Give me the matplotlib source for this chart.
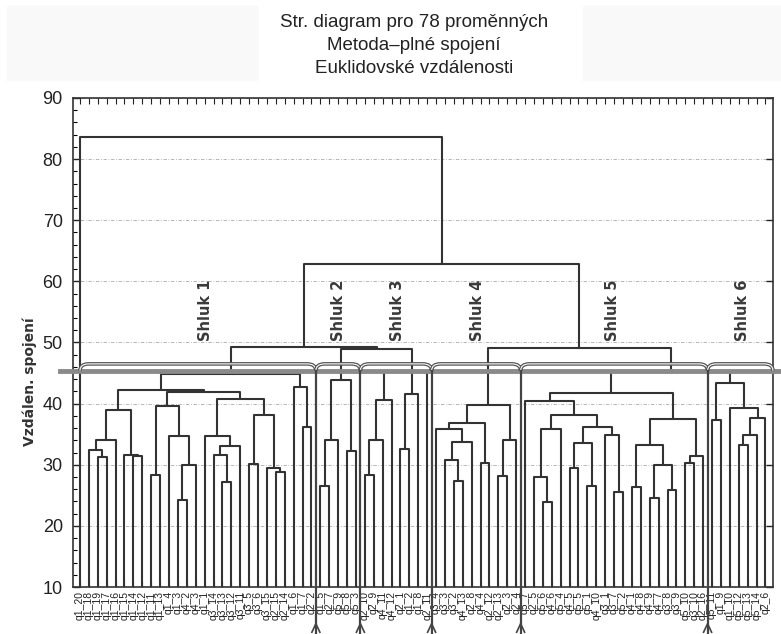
import matplotlib.pyplot as plt
import matplotlib.transforms as mtransforms
from matplotlib.path import Path
from matplotlib.patches import PathPatch, Rectangle
from matplotlib.ticker import MultipleLocator

plt.rcParams['font.family'] = ['Liberation Sans', 'DejaVu Sans']

# leaf order as drawn (left to right)
leaf_labels = [
    "q1_20", "q1_18", "q1_19", "q1_17", "q1_16", "q1_15", "q1_14", "q1_12", "q1_11", "q1_13",
    "q1_4", "q1_3", "q4_2", "q4_3", "q1_1", "q3_14", "q3_13", "q3_12", "q3_11", "q3_5",
    "q3_6", "q3_15", "q2_15", "q2_14", "q1_6", "q1_7", "q2_2", "q1_5", "q2_7", "q5_9",
    "q5_8", "q5_3", "q2_10", "q2_9", "q4_11", "q4_12", "q2_1", "q1_2", "q1_8", "q2_11",
    "q3_4", "q3_3", "q3_2", "q4_13", "q2_8", "q4_4", "q2_12", "q2_13", "q2_3", "q2_4",
    "q5_7", "q2_5", "q5_6", "q4_6", "q5_4", "q4_5", "q5_5", "q5_1", "q4_10", "q3_1",
    "q3_7", "q5_2", "q4_1", "q4_8", "q4_9", "q4_7", "q3_8", "q3_9", "q5_10", "q3_10",
    "q2_16", "q5_11", "q1_9", "q1_10", "q5_12", "q5_13", "q5_14", "q2_6",
]

# merges: (name, left child, right child, linkage distance); ints are leaf numbers
merges = [
    ("a1", 3, 4, 31.2), ("a2", 2, "a1", 32.4), ("a3", "a2", 5, 34.1),
    ("b1", 7, 8, 31.4), ("b2", 6, "b1", 31.6), ("a4", "a3", "b2", 38.9),
    ("c1", 9, 10, 28.3), ("c2", 12, 13, 24.3), ("c3", "c2", 14, 30.0),
    ("c4", 11, "c3", 34.7), ("c5", "c1", "c4", 39.6),
    ("d1", 17, 18, 27.1), ("d2", 16, "d1", 31.6), ("d3", "d2", 19, 33.1),
    ("d4", 15, "d3", 34.7),
    ("e1", 20, 21, 30.2), ("e2", 23, 24, 28.8), ("e3", 22, "e2", 29.5),
    ("e4", "e1", "e3", 38.2), ("d5", "d4", "e4", 40.7),
    ("x2", "c5", "d5", 41.95), ("x1", "a4", "x2", 42.3),
    ("f1", 26, 27, 36.2), ("f2", 25, "f1", 42.8), ("s1", "x1", "f2", 44.8),
    ("g1", 28, 29, 26.6), ("g2", "g1", 30, 34.1), ("g3", 31, 32, 32.3),
    ("s2", "g2", "g3", 43.8),
    ("h1", 33, 34, 28.4), ("h2", "h1", 35, 34.0), ("h3", "h2", 36, 40.6),
    ("h4", 37, 38, 32.6), ("h5", "h4", 39, 41.5),
    ("s3", "h3", "h5", 45.3), ("s3b", "s3", 40, 45.4),
    ("s23", "s2", "s3b", 48.9), ("left", "s1", "s23", 49.3),
    ("k1", 43, 44, 27.3), ("k2", 42, "k1", 30.8), ("k3", "k2", 45, 33.8),
    ("k4", 41, "k3", 35.8), ("k5", 46, 47, 30.3), ("k6", "k4", "k5", 36.9),
    ("k7", 48, 49, 28.2), ("k8", "k7", 50, 34.1), ("s4", "k6", "k8", 39.7),
    ("m1", 53, 54, 23.9), ("m2", 52, "m1", 28.0), ("m3", "m2", 55, 35.9),
    ("m4", 56, 57, 29.5), ("m5", 58, 59, 26.5), ("m6", "m4", "m5", 33.6),
    ("m7", 61, 62, 25.5), ("m8", 60, "m7", 34.9), ("m9", "m6", "m8", 36.1),
    ("m10", "m3", "m9", 38.2), ("m11", 51, "m10", 40.5),
    ("n1", 63, 64, 26.3), ("n2", 65, 66, 24.5), ("n3", 67, 68, 25.9),
    ("n4", "n2", "n3", 29.9), ("n5", "n1", "n4", 33.2), ("n6", 69, 70, 30.3),
    ("n7", "n6", 71, 31.4), ("n8", "n5", "n7", 37.5), ("s5", "m11", "n8", 41.7),
    ("p1", 72, 73, 37.4), ("p2", 75, 76, 33.3), ("p3", "p2", 77, 34.9),
    ("p4", "p3", 78, 37.7), ("p5", 74, "p4", 39.3), ("s6", "p1", "p5", 43.3),
    ("s56", "s5", "s6", 45.4), ("right", "s4", "s56", 49.1),
    ("top", "left", "right", 62.9), ("root", 1, "top", 83.6),
]

cut_height = 45.4
brace_top = 46.5
cluster_edges = [1.0, 27.5, 32.5, 40.5, 50.5, 71.5, 78.85]
cluster_names = ["Shluk 1", "Shluk 2", "Shluk 3", "Shluk 4", "Shluk 5", "Shluk 6"]
cluster_label_x = [15.1, 30.0, 36.7, 45.7, 60.8, 75.4]
cluster_label_y = 55.2

fig = plt.figure(figsize=(7.81, 6.34), dpi=100)
fig.patches.append(Rectangle((7 / 781, 1 - 80 / 634), 250 / 781, 74 / 634,
                             transform=fig.transFigure, color='#f9f9f9', zorder=0))
fig.patches.append(Rectangle((583 / 781, 1 - 80 / 634), 198 / 781, 74 / 634,
                             transform=fig.transFigure, color='#f9f9f9', zorder=0))

ax = fig.add_axes([72.5 / 781, 1 - 587 / 634, 700.5 / 781, 489 / 634])
ax.set_xlim(0.16, 78.85)
ax.set_ylim(10, 90)

lookup = {m[0]: m[1:] for m in merges}
line_kw = dict(color='#333333', lw=1.5, solid_capstyle='butt', zorder=3)


def draw(node):
    if isinstance(node, int):
        return node, 10.0
    left, right, h = lookup[node]
    xl, hl = draw(left)
    xr, hr = draw(right)
    ax.plot([xl, xl, xr, xr], [hl, h, h, hr], **line_kw)
    return (xl + xr) / 2, h


draw("root")

# cut line across the whole width
blend = mtransforms.blended_transform_factory(fig.transFigure, ax.transData)
ax.plot([60 / 781, 1.0], [cut_height, cut_height], transform=blend,
        color='#8a8a8a', lw=3.5, clip_on=False, zorder=5)

# braces around clusters
d = 1.0
for xa, xb in zip(cluster_edges[:-1], cluster_edges[1:]):
    verts = [(xa, cut_height), (xa, brace_top), (xa + d, brace_top),
             (xb - d, brace_top), (xb, brace_top), (xb, cut_height)]
    codes = [Path.MOVETO, Path.CURVE3, Path.CURVE3, Path.LINETO, Path.CURVE3, Path.CURVE3]
    p = Path(verts, codes)
    ax.add_patch(PathPatch(p, fill=False, edgecolor='#555555', lw=2.6, zorder=6, clip_on=False))
    ax.add_patch(PathPatch(p, fill=False, edgecolor='white', lw=0.8, zorder=6, clip_on=False))

# separators down through the labels
for xs in cluster_edges[1:-1]:
    ax.plot([xs, xs], [cut_height, 2.0], color='#444444', lw=1.6, clip_on=False, zorder=6)
    ax.plot([xs - 0.45, xs, xs + 0.45], [2.6, 4.0, 2.6], color='#444444', lw=1.2,
            clip_on=False, zorder=6)

for name, xl in zip(cluster_names, cluster_label_x):
    ax.text(xl, cluster_label_y, name, rotation=90, ha='center', va='center',
            fontsize=10.5, fontweight='bold', color='#3a3a3a', family='DejaVu Sans', zorder=7)

# axes styling
ax.yaxis.set_major_locator(MultipleLocator(10))
ax.yaxis.set_minor_locator(MultipleLocator(2))
ax.tick_params(axis='y', which='major', direction='in', length=5, width=1,
               labelsize=13, pad=7, right=True, colors='#222222')
ax.tick_params(axis='y', which='minor', direction='in', length=3, width=0.8, right=False)
ax.set_xticks(range(1, len(leaf_labels) + 1))
ax.set_xticklabels(leaf_labels, rotation=90, fontsize=7.5, va='top')
ax.tick_params(axis='x', direction='in', length=4, width=0.8, top=True, pad=3,
               colors='#222222')
ax.grid(axis='y', which='major', linestyle=(0, (4, 2, 1, 2)), color='#aaaaaa', lw=0.6)
ax.set_axisbelow(True)
for sp in ax.spines.values():
    sp.set_color('#333333')
    sp.set_linewidth(1.2)

fig.text(30 / 781, 1 - 382 / 634, "Vzdálen. spojení", rotation=90, ha='center', va='center',
         fontsize=10, fontweight='bold', color='#333333', family='DejaVu Sans')
fig.text(414 / 781, 1 - 14 / 634,
         "Str. diagram pro 78 proměnných\nMetoda\u2013plné spojení\nEuklidovské vzdálenosti",
         ha='center', va='top', fontsize=13.5, linespacing=1.45, color='#222222')

fig.savefig("out.png", dpi=100)
